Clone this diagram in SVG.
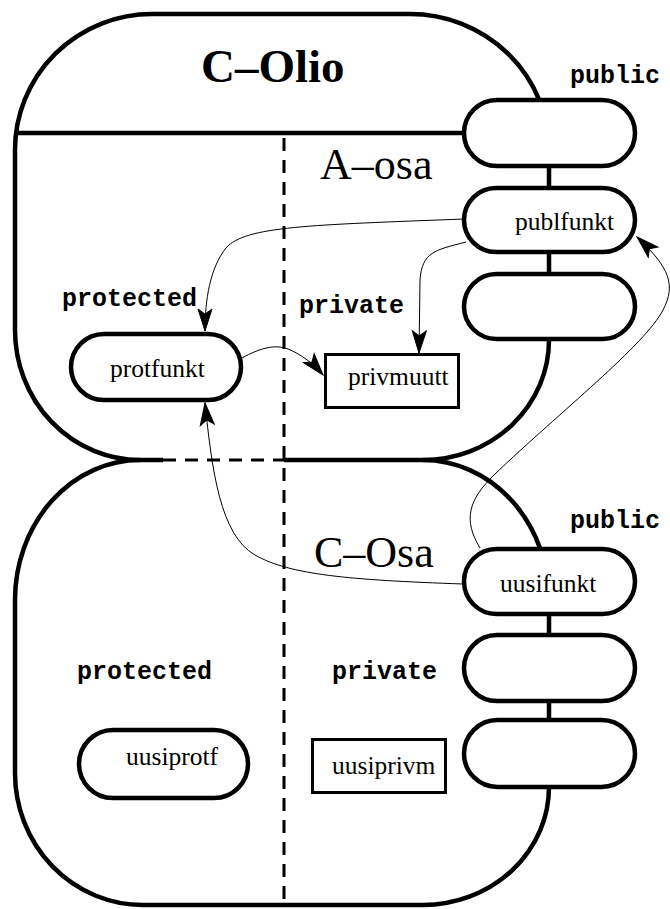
<svg xmlns="http://www.w3.org/2000/svg" width="670" height="909" viewBox="0 0 670 909">
  <defs>
    <marker id="arrowhead" markerUnits="userSpaceOnUse" viewBox="-2 -2 28 18" markerWidth="28" markerHeight="18" refX="22" refY="7" orient="auto" overflow="visible">
      <path d="M0,0 L22,7 L0,14 L5,7 z" fill="#000" stroke="#000" stroke-width="1" stroke-linejoin="miter"/>
    </marker>
    <style>
      .outline { fill: none; stroke: #000; stroke-width: 4.5; }
      .dash { fill: none; stroke: #000; stroke-width: 3; stroke-dasharray: 13 9; }
      .pill { fill: #fff; stroke: #000; stroke-width: 4.5; }
      .box { fill: #fff; stroke: #000; stroke-width: 3; }
      .conn { fill: none; stroke: #000; stroke-width: 1; marker-end: url(#arrowhead); }
      .title { font-family: "Liberation Serif", "Times New Roman", serif; font-weight: bold; font-size: 47px; }
      .part { font-family: "Liberation Serif", "Times New Roman", serif; font-size: 44px; }
      .name { font-family: "Liberation Serif", "Times New Roman", serif; font-size: 25.5px; }
      .kw { font-family: "Liberation Mono", "Courier New", monospace; font-weight: bold; font-size: 25px; }
    </style>
  </defs>

  <rect width="670" height="909" fill="#fff"/>

  <!-- class body outlines -->
  <g id="body">
    <!-- upper part (C-Olio / A-osa) -->
    <path class="outline" d="M15,150 A137,136 0 0 1 152,14 L410,14 A139,136 0 0 1 549,150 L549,340 A126,120 0 0 1 423,460"/>
    <path class="outline" d="M15,150 L15,330 A125,130 0 0 0 140,460 L163,460"/>
    <line class="outline" x1="15" y1="133" x2="464" y2="133"/>
    <!-- lower part (C-Osa) -->
    <path class="outline" d="M140,460 A125,140 0 0 0 15,600 L15,773 A128,132 0 0 0 143,905 L423,905 A126,118 0 0 0 549,787 L549,600 A126,140 0 0 0 423,460 L284,460"/>
    <!-- section dividers -->
    <line class="dash" x1="163" y1="460" x2="284" y2="460"/>
    <line class="dash" x1="284" y1="138" x2="284" y2="905"/>
  </g>

  <!-- public member slots -->
  <g id="pub-slot-1"><rect class="pill" x="464" y="100" width="171" height="66" rx="33"/></g>
  <g id="publfunkt">
    <rect class="pill" x="464" y="188" width="171" height="64" rx="32"/>
    <text class="name" x="515" y="230">publfunkt</text>
  </g>
  <g id="pub-slot-3"><rect class="pill" x="464" y="274" width="171" height="65" rx="32.5"/></g>
  <g id="uusifunkt">
    <rect class="pill" x="464" y="549" width="171" height="65" rx="32.5"/>
    <text class="name" x="500" y="592">uusifunkt</text>
  </g>
  <g id="pub-slot-5"><rect class="pill" x="464" y="635" width="171" height="66" rx="33"/></g>
  <g id="pub-slot-6"><rect class="pill" x="464" y="720" width="171" height="67" rx="33.5"/></g>

  <!-- protected / private members -->
  <g id="protfunkt">
    <rect class="pill" x="71" y="334" width="170" height="66" rx="33"/>
    <text class="name" x="110" y="377">protfunkt</text>
  </g>
  <g id="privmuutt">
    <rect class="box" x="325.5" y="354.5" width="133" height="53"/>
    <text class="name" x="348" y="385">privmuutt</text>
  </g>
  <g id="uusiprotf">
    <rect class="pill" x="79" y="730" width="169" height="68" rx="34"/>
    <text class="name" x="126" y="765">uusiprotf</text>
  </g>
  <g id="uusiprivm">
    <rect class="box" x="312.5" y="739.5" width="133" height="53"/>
    <text class="name" x="332" y="774">uusiprivm</text>
  </g>

  <!-- headings and section labels -->
  <g id="labels">
    <text class="title" x="201" y="82">C–Olio</text>
    <text class="part" x="320" y="179">A–osa</text>
    <text class="part" x="314" y="567">C–Osa</text>
    <text class="kw" x="570" y="83">public</text>
    <text class="kw" x="62" y="306">protected</text>
    <text class="kw" x="299" y="313">private</text>
    <text class="kw" x="570" y="528">public</text>
    <text class="kw" x="77" y="679">protected</text>
    <text class="kw" x="332" y="679">private</text>
  </g>

  <!-- call / access arrows -->
  <g id="connectors">
    <path class="conn" d="M464,219 C310,225 245,226 226,248 C210,268 205,300 205,331"/>
    <path class="conn" d="M466,242 C435,250 422,252 420,280 L419,353"/>
    <path class="conn" d="M242,358 C260,348 275,344 288,349 C300,354 312,362 323,375"/>
    <path class="conn" d="M463,584 C350,580 290,575 255,555 C220,535 212,470 205,403"/>
    <path class="conn" d="M480,548 C463,520 468,500 495,474 C560,412 645,345 663,310 C676,285 670,268 637,237"/>
  </g>
</svg>
